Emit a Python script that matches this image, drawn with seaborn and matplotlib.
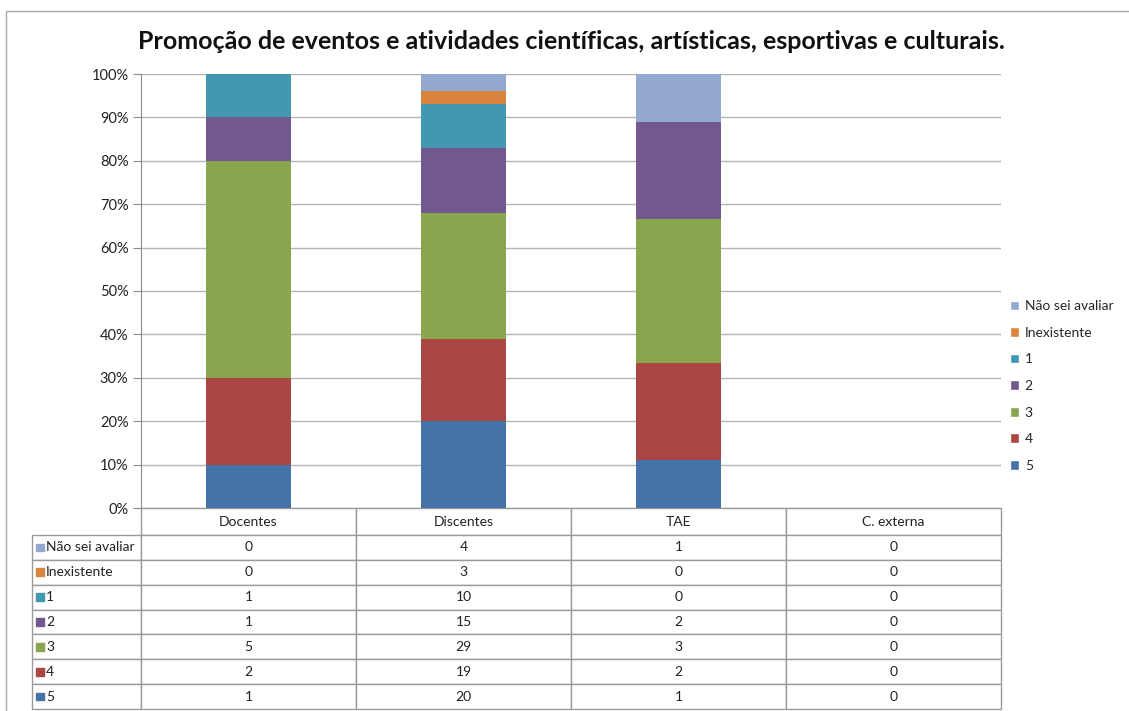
import numpy as np
import pandas as pd
import matplotlib.pyplot as plt
import seaborn as sns
from matplotlib.patches import Patch, Rectangle
from matplotlib.ticker import PercentFormatter

# data
groups = ['Docentes', 'Discentes', 'TAE', 'C. externa']
levels = ['Não sei avaliar', 'Inexistente', '1', '2', '3', '4', '5']
nao_sei = [0, 4, 1, 0]
inexistente = [0, 3, 0, 0]
nota1 = [1, 10, 0, 0]
nota2 = [1, 15, 2, 0]
nota3 = [5, 29, 3, 0]
nota4 = [2, 19, 2, 0]
nota5 = [1, 20, 1, 0]
colors = ['#93A9CF', '#DB843D', '#4198AF', '#71588F', '#89A54E', '#AA4643', '#4572A7']

counts = pd.DataFrame([nao_sei, inexistente, nota1, nota2, nota3, nota4, nota5],
                      index=levels, columns=groups)
totals = counts.sum()
pct = counts.div(totals.replace(0, np.nan)).fillna(0) * 100
# cumulative from the bottom level ('5') upwards
cum = pct.iloc[::-1].cumsum().iloc[::-1]

sns.set_style('white')
plt.rcParams['font.family'] = ['Lato', 'DejaVu Sans']

fig = plt.figure(figsize=(11.29, 7.11), dpi=100)
ax_w, ax_h = 860, 434
ax = fig.add_axes([141 / 1129, 1 - 508 / 711, ax_w / 1129, ax_h / 711])

# overlapping bars, tallest first -> stacked look
for lev, c in zip(levels, colors):
    sns.barplot(x=groups, y=cum.loc[lev].values, color=c, width=0.395,
                saturation=1, linewidth=0, edgecolor='none', ax=ax, zorder=3)

ax.set_xlim(-0.5, 3.5)
ax.set_ylim(0, 100)
ax.set_yticks(np.arange(0, 101, 10))
ax.yaxis.set_major_formatter(PercentFormatter(decimals=0))
ax.grid(axis='y', color='#b4b4b4', lw=1, zorder=0)
ax.set_axisbelow(True)
ax.set_xticks([])
ax.set_xlabel('')
ax.set_ylabel('')
for s in ['top', 'right', 'bottom']:
    ax.spines[s].set_visible(False)
ax.spines['left'].set_color('#8c8c8c')
ax.tick_params(axis='y', left=True, length=6, color='#8c8c8c', labelsize=10.5,
               labelcolor='#222222', pad=3)

ax.set_title('Promoção de eventos e atividades científicas, artísticas, esportivas e culturais.',
             fontsize=18, fontweight='bold', pad=18, color='#111111')

# data table under the plot (sizes in axes fractions)
head_h, row_h = 27 / ax_h, 24.86 / ax_h
lab_w, col_w = 109 / ax_w, 215 / ax_w
tab_h = head_h + row_h * len(levels)
cell_text = [[str(v) for v in counts.loc[lev]] for lev in levels]
tab = ax.table(cellText=cell_text, rowLabels=levels, colLabels=groups,
               cellLoc='center', rowLoc='left',
               bbox=[0, -tab_h, 1, tab_h])
tab.auto_set_font_size(False)
tab._autoColumns = []  # keep the row label column at its fixed width
for (r, c), cell in tab.get_celld().items():
    cell.set_edgecolor('#9a9a9a')
    cell.set_linewidth(1)
    cell.get_text().set_fontsize(10)
    cell.get_text().set_color('#222222')
    cell.set_height(head_h if r == 0 else row_h)
    cell.set_width(lab_w if c == -1 else col_w)
    if c == -1:
        cell.PAD = 0.13

# colour keys inside the row label cells
ys = [-(head_h + row_h * (i + 0.5)) for i in range(len(levels))]
ax.scatter([-lab_w + 8 / ax_w] * len(levels), ys, marker='s', s=30, c=colors,
           transform=ax.transAxes, clip_on=False, zorder=5)

handles = [Patch(facecolor=c, label=l) for l, c in zip(levels, colors)]
fig.legend(handles=handles, loc='center left', bbox_to_anchor=(997 / 1129, 1 - 386 / 711),
           frameon=False, fontsize=10, handlelength=0.7, handleheight=0.7,
           handletextpad=0.4, labelspacing=1.05)

# outer chart border
fig.patches.append(Rectangle((6 / 1129, -0.1), 1.1, 1 - 11 / 711 + 0.1,
                             transform=fig.transFigure, fill=False,
                             edgecolor='#a8a8a8', lw=1))

fig.savefig('out.png', dpi=100)
